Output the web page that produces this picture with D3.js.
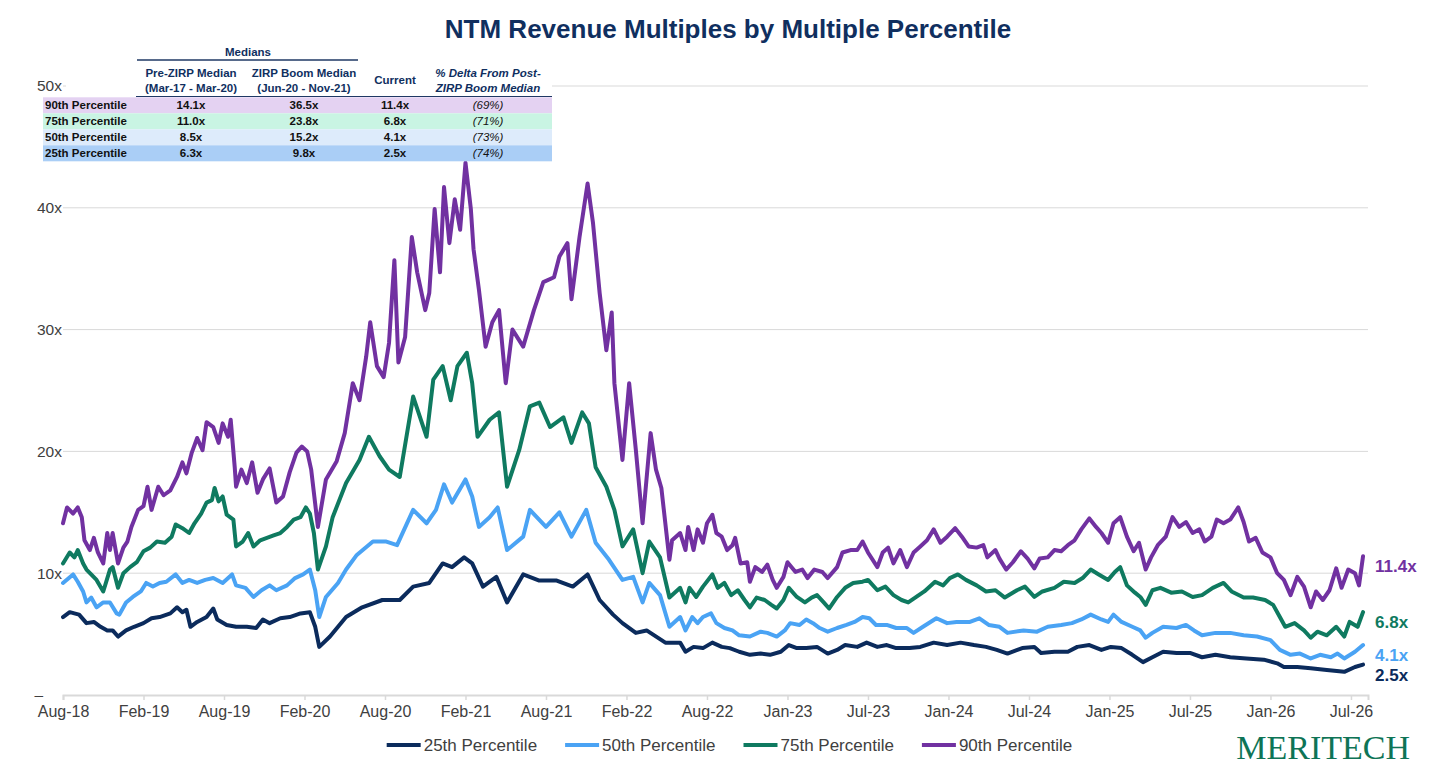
<!DOCTYPE html>
<html>
<head>
<meta charset="utf-8">
<script src="https://cdn.jsdelivr.net/npm/d3@7"></script>
<style>
  html, body { margin: 0; padding: 0; background: #fff; }
  svg { display: block; font-family: "Liberation Sans", Arial, sans-serif; }
</style>
</head>
<body>
<svg id="chart" width="1456" height="770"></svg>
<script>
// ---------------- DATA ----------------
const title = "NTM Revenue Multiples by Multiple Percentile";
const xTickMonths = [0, 6, 12, 18, 24, 30, 36, 42, 48, 54, 60, 66, 72, 78, 84, 90, 96];
const xTickLabels = ["Aug-18","Feb-19","Aug-19","Feb-20","Aug-20","Feb-21","Aug-21","Feb-22","Aug-22",
                     "Jan-23","Jul-23","Jan-24","Jul-24","Jan-25","Jul-25","Jan-26","Jul-26"];
const yTicks = [0, 10, 20, 30, 40, 50];
const seriesNames = ["25th Percentile", "50th Percentile", "75th Percentile", "90th Percentile"];

// months since Aug-18 and multiple (x)
const p25Months = [0,0.5,1.2,1.75,2.3,2.8,3.3,3.7,4.1,4.7,5.3,6,6.6,7.2,8,8.5,8.9,9.2,9.5,10,10.7,11.2,11.5,12.2,12.9,13.7,14.4,14.9,15.4,16.2,16.9,17.7,18.4,18.8,19.1,
  19.9,21.1,22.3,23.8,25.1,26.1,27.3,28.3,29,29.9,30.5,31.3,32.3,33.1,34.3,35.5,36.8,38,39.1,40,41,41.7,42.7,43.5,44.9,
  46,46.4,47,47.7,48.4,49.1,49.7,50.4,51.2,52,52.7,53.5,54.1,54.7,55.4,56.2,57,57.7,58.3,59.2,59.9,60.7,61.4,62.1,63.1,63.9,64.9,65.9,66.9,67.9,68.8,69.6,70.4,
  71.5,72.4,72.9,73.9,74.9,75.6,76.5,77.4,78.1,78.9,79.7,80.5,81.2,82,83,84,84.9,85.9,87,88.2,89.5,90.5,91,92,93,94.2,95.5,96.3,96.9];
const p25Values = [6.4,6.8,6.6,5.9,6.0,5.6,5.3,5.3,4.8,5.3,5.6,5.9,6.3,6.4,6.7,7.2,6.8,7.0,5.6,6.0,6.4,7.1,6.2,5.75,5.6,5.6,5.5,6.2,5.9,6.3,6.4,6.7,6.8,5.6,3.95,
  4.8,6.4,7.2,7.8,7.8,8.9,9.2,10.8,10.5,11.3,10.8,8.9,9.7,7.6,9.9,9.4,9.4,8.9,9.9,7.8,6.6,5.9,5.1,5.3,4.3,
  4.3,3.55,3.95,3.85,4.3,3.95,3.85,3.55,3.3,3.4,3.3,3.55,4.1,3.85,3.85,3.95,3.4,3.7,4.1,3.95,4.3,3.95,4.1,3.85,3.85,3.95,4.3,4.1,4.3,4.1,3.95,3.7,3.4,
  3.85,3.95,3.45,3.55,3.55,3.95,4.1,3.7,3.95,3.85,3.3,2.7,3.1,3.55,3.45,3.45,3.1,3.3,3.1,3.0,2.9,2.6,2.3,2.3,2.2,2.05,1.9,2.3,2.5];

const p50Months = [0,0.75,1.1,1.5,1.75,2.1,2.5,3,3.5,4,4.2,4.7,5.2,5.8,6.2,6.7,7.2,7.7,8.4,8.9,9.4,10,10.6,11.2,11.9,12.6,12.9,13.6,14.2,14.8,15.4,15.9,16.7,17.3,17.9,18.4,18.8,19.1,
  19.6,20.5,21.1,21.9,23.1,24.1,24.9,26.1,27.1,27.8,28.4,29,30,30.5,31,31.8,32.4,33.1,34.3,34.8,36,37,37.9,39,39.7,40.7,41.7,42.5,43.2,43.7,44.5,45.2,
  46,46.4,46.9,47.3,47.7,48.3,48.7,49.3,49.9,50.4,51.2,52,52.5,53.2,53.8,54.2,54.9,55.4,55.9,56.4,57,57.7,58.4,59,59.6,60.1,60.6,61.4,62.1,62.9,63.4,64.1,65.1,65.9,66.6,67.6,68.3,69,69.8,70.4,
  71.6,72.6,73.4,74.4,75.2,75.9,76.6,77.4,77.9,78.3,78.9,79.7,80.3,80.7,81.2,82,83,83.7,84.3,84.9,85.9,87,88,89,90,90.7,91.5,92.2,93,93.7,94.5,95,95.5,96.3,96.9];
const p50Values = [9.2,9.9,9.3,8.5,7.6,8.0,7.2,7.6,7.6,6.7,6.6,7.6,8.05,8.5,9.2,8.9,9.2,9.3,9.9,9.2,9.45,9.2,9.45,9.6,9.2,9.9,9.0,8.8,8.05,8.6,9.0,8.6,9.0,9.6,9.9,10.3,8.6,6.4,
  8.05,9.2,10.3,11.5,12.6,12.6,12.3,15.2,14.1,15.2,17.3,15.8,17.7,16.3,13.8,14.6,15.4,11.9,13.0,15.2,13.8,15.0,13.0,15.2,12.5,11.1,9.45,9.7,7.6,9.2,8.2,5.6,
  6.4,5.3,6.4,5.9,6.4,6.7,5.9,5.5,5.3,4.9,4.8,5.2,5.1,4.8,5.3,5.9,5.75,6.2,5.9,5.5,5.2,5.5,5.75,6.0,6.4,6.3,5.75,5.75,5.5,5.5,5.1,5.6,6.3,5.9,6.0,6.0,6.3,5.75,5.6,5.1,
  5.3,5.2,5.6,5.75,5.9,6.2,6.6,6.2,6.0,6.6,6.0,5.6,5.3,4.7,5.1,5.6,5.5,5.75,5.3,4.9,5.1,5.1,4.9,4.8,4.5,3.7,3.3,3.4,3.0,3.3,3.1,3.4,3.0,3.55,4.1];

const p75Months = [0,0.5,0.85,1.1,1.5,1.75,2.1,2.5,3,3.5,3.7,4.1,4.5,5,5.5,6,6.5,7,7.6,8.1,8.4,8.9,9.4,9.8,10.3,10.7,11.1,11.3,11.6,11.9,12.2,12.7,12.9,13.4,13.8,14.2,14.7,15.2,15.7,16.2,16.7,17.2,17.7,18.1,18.4,18.7,19,
  19.6,20.1,21.1,22.1,22.8,23.6,24.3,25.1,26.1,27.1,27.6,28.3,28.9,29.4,30.1,30.5,30.9,31.8,32.5,33.1,34,34.8,35.5,36.3,37.3,37.9,38.7,39.2,39.7,40.5,41.1,41.7,42.5,43.2,43.7,44.5,45.2,
  46,46.4,46.7,47.2,47.7,48.4,48.8,49.3,49.8,50.3,50.8,51.2,51.7,52.3,52.8,53.2,53.7,54.1,54.7,55.3,55.8,56.2,56.7,57.1,57.7,58.3,58.9,59.6,60,60.7,61.3,61.9,62.5,63,63.6,64.2,65,65.6,66.1,66.7,67.3,68.1,68.8,69.5,70.2,
  71.1,71.7,72.4,73,73.9,74.6,75.4,76,76.6,77.2,77.9,78.4,78.8,79.3,79.9,80.3,80.7,81.2,81.8,82.6,83.4,84.2,84.9,85.7,86.5,87.1,88,88.7,89.6,90.2,90.7,91.1,91.8,92.5,93,93.5,94.2,94.9,95.5,95.9,96.5,96.9];
const p75Values = [10.8,11.7,11.3,11.9,10.8,10.3,9.9,9.45,8.5,10.3,10.5,8.8,10.0,10.5,10.9,11.8,12.1,12.6,12.5,13.0,14.0,13.7,13.3,14.1,14.9,15.8,16.0,17.0,15.9,16.3,14.8,14.4,12.2,12.6,13.3,12.2,12.7,12.9,13.1,13.3,13.8,14.4,14.6,15.4,14.9,13.3,10.3,
  12.2,14.6,17.4,19.3,21.2,19.6,18.5,17.9,24.5,21.2,25.9,27.0,24.2,27.0,28.1,25.6,21.2,22.6,23.2,17.1,20.1,23.7,24.0,22.0,22.8,20.7,23.2,22.3,18.7,17.1,15.2,12.2,13.6,10.0,12.6,11.3,8.0,
  8.8,7.6,8.8,8.05,8.9,9.9,8.8,9.2,8.2,8.6,7.8,7.2,8.0,7.8,7.4,7.1,7.8,8.8,8.05,7.6,8.0,8.2,7.6,7.1,8.05,8.8,9.2,9.3,9.45,8.6,8.9,8.2,7.8,7.6,8.05,8.5,9.3,9.0,9.6,9.9,9.45,9.0,8.5,8.6,8.0,
  8.6,8.9,8.05,8.5,8.8,9.3,9.2,9.6,10.3,9.9,9.45,10.1,10.5,9.0,8.4,8.05,7.4,8.6,8.8,8.4,8.5,8.05,8.2,8.8,9.2,8.5,8.0,8.0,7.8,7.4,6.4,5.6,5.9,5.3,4.7,5.2,4.9,5.6,4.8,6.0,5.6,6.8];

const p90Months = [0,0.3,0.75,1.1,1.4,1.6,2,2.3,2.6,3,3.3,3.5,3.7,4.1,4.5,4.8,5.1,5.6,6,6.3,6.6,7.1,7.5,8,8.5,8.9,9.2,9.6,10,10.4,10.7,11.2,11.6,11.9,12.3,12.5,12.8,12.9,13.3,13.7,14.1,14.5,14.9,15.4,15.9,16.4,16.9,17.4,17.8,18.2,18.5,19,
  19.6,20.4,21,21.6,22.1,22.6,22.9,23.4,23.9,24.3,24.7,25,25.5,26,26.4,27,27.3,27.7,28.1,28.4,28.8,29.2,29.6,30,30.4,30.6,31,31.5,32,32.5,33,33.5,34.3,35.1,35.8,36.6,37,37.6,37.9,38.5,39.1,39.5,40,40.5,40.9,41.1,41.7,42.2,42.7,43.2,43.8,44.2,44.6,45.2,45.4,
  46,46.4,46.6,47,47.3,47.7,48,48.4,48.7,49.1,49.5,49.9,50.1,50.5,51,51.2,51.6,52.1,52.5,52.9,53.2,53.7,54,54.6,55.1,55.5,56,56.6,57,57.7,58.1,58.7,59.2,59.6,60,60.7,61.1,61.5,61.9,62.4,62.9,63.4,63.9,64.4,64.9,65.4,65.9,66.5,67,67.5,68.1,68.6,68.9,69.5,69.8,70.3,70.8,
  71.4,71.9,72.4,72.8,73.4,73.9,74.4,74.9,75.4,75.9,76.5,77,77.4,77.9,78.3,78.8,79.3,79.8,80.2,80.7,81.1,81.6,82.2,82.7,83.2,83.7,84.2,84.7,85.1,85.6,86,86.5,87,87.6,88,88.4,88.9,89.4,90,90.5,91,91.5,92,92.5,93,93.4,93.9,94.4,94.9,95.3,95.8,96.3,96.6,96.9];
const p90Values = [14.1,15.4,14.9,15.4,14.6,12.7,11.9,12.9,11.7,10.8,13.3,11.9,13.3,10.8,12.1,12.6,13.8,15.2,15.5,17.1,15.2,17.1,16.4,16.8,17.9,19.1,18.2,19.9,21.1,20.1,22.4,22.0,20.7,22.3,21.2,22.6,18.7,17.1,18.5,17.4,19.1,16.6,17.7,18.6,15.8,16.3,18.3,19.9,20.4,20.0,18.5,13.8,
  17.7,19.2,21.5,25.6,24.2,27.8,30.6,27.0,26.1,28.9,35.7,27.3,29.4,37.6,34.7,31.6,33.0,39.9,34.7,41.7,37.1,40.7,38.2,43.7,39.9,36.6,33.3,28.6,30.6,31.6,25.6,30.0,28.6,31.6,33.9,34.3,36.0,37.1,32.5,37.6,42.0,38.8,33.0,28.3,31.4,25.6,19.3,25.6,20.1,14.1,21.5,18.5,17.0,11.1,12.7,
  13.3,11.9,13.8,11.9,13.6,12.5,14.1,14.8,13.3,13.0,11.9,12.3,12.9,10.8,10.9,9.3,10.5,10.1,10.7,9.45,8.8,9.7,10.9,10.1,10.3,9.6,10.3,10.1,9.6,10.5,11.7,11.9,11.9,12.6,11.7,10.5,11.7,12.1,10.8,11.9,10.5,11.7,12.2,12.7,13.6,12.5,13.0,13.7,13.0,12.2,12.1,12.3,11.3,11.9,11.2,10.3,10.9,
  11.8,11.2,10.4,11.2,11.3,11.9,11.8,12.3,12.7,13.6,14.5,13.8,13.3,12.5,14.1,14.6,13.0,11.8,12.5,10.3,11.3,12.3,13.0,14.6,13.8,14.2,13.3,13.6,12.6,13.0,14.4,14.1,14.4,15.4,14.2,12.6,12.9,11.7,11.3,10.0,9.45,8.2,9.7,8.9,7.2,8.5,7.8,8.6,10.4,8.8,10.3,10.0,9.0,11.4];

const endLabels = ["2.5x", "4.1x", "6.8x", "11.4x"];

// table
const tableRowLabels = ["90th Percentile", "75th Percentile", "50th Percentile", "25th Percentile"];
const preZirpMedian = ["14.1x", "11.0x", "8.5x", "6.3x"];
const zirpBoomMedian = ["36.5x", "23.8x", "15.2x", "9.8x"];
const currentMultiple = ["11.4x", "6.8x", "4.1x", "2.5x"];
const deltaFromBoom = ["(69%)", "(71%)", "(73%)", "(74%)"];

// ---------------- STYLE ----------------
const colors = ["#0B2B5C", "#4AA3F4", "#0F7A60", "#7131A1"];
const rowFills = ["#E4D2F2", "#C9F4E3", "#DDEBFB", "#AACEF6"];
const navy = "#102F5F";
const textGray = "#404040";
const gridColor = "#D9D9D9";

// ---------------- CHART ----------------
const svg = d3.select("#chart");
const x = d3.scaleLinear().domain([0, 97.27]).range([63, 1368]);
const y = d3.scaleLinear().domain([0, 50]).range([695, 86]);

// title
svg.append("text").attr("x", 728).attr("y", 38).attr("text-anchor", "middle")
  .attr("font-size", 26).attr("font-weight", "bold").attr("fill", navy).text(title);

// gridlines
svg.append("g").selectAll("line").data(yTicks.filter(d => d > 0)).join("line")
  .attr("x1", x.range()[0]).attr("x2", x.range()[1])
  .attr("y1", d => y(d)).attr("y2", d => y(d))
  .attr("stroke", gridColor).attr("stroke-width", 1);

// x axis
const xAxis = d3.axisBottom(x).tickValues(xTickMonths)
  .tickFormat((d, i) => xTickLabels[i]).tickSize(5).tickPadding(6);
const gx = svg.append("g").attr("transform", `translate(0,${y(0)})`).call(xAxis);
gx.select(".domain").attr("stroke", gridColor).attr("stroke-width", 2);
gx.selectAll(".tick line").attr("stroke", gridColor).attr("stroke-width", 1.5);
gx.selectAll(".tick text").attr("font-size", 16).attr("fill", textGray)
  .attr("font-family", "'Liberation Sans', Arial, sans-serif");

// lines
const seriesData = [
  d3.zip(p25Months, p25Values),
  d3.zip(p50Months, p50Values),
  d3.zip(p75Months, p75Values),
  d3.zip(p90Months, p90Values)
];
const line = d3.line().x(d => x(d[0])).y(d => y(d[1])).curve(d3.curveLinear);
svg.append("g").selectAll("path").data(seriesData).join("path")
  .attr("d", line).attr("fill", "none")
  .attr("stroke", (d, i) => colors[i]).attr("stroke-width", 4)
  .attr("stroke-linejoin", "round").attr("stroke-linecap", "round");

// end labels
svg.append("g").selectAll("text").data(seriesData).join("text")
  .attr("x", 1375).attr("y", d => y(d[d.length - 1][1]) + 10).attr("dy", "0.35em")
  .attr("font-size", 17).attr("font-weight", "bold")
  .attr("fill", (d, i) => colors[i]).text((d, i) => endLabels[i]);

// ---------------- TABLE ----------------
const tbl = svg.append("g");
tbl.append("rect").attr("x", 66).attr("y", 40).attr("width", 486).attr("height", 57).attr("fill", "#fff");
tbl.append("text").attr("x", 248).attr("y", 56).attr("text-anchor", "middle")
  .attr("font-size", 11.5).attr("font-weight", "bold").attr("fill", navy).text("Medians");
tbl.append("line").attr("x1", 137).attr("x2", 358).attr("y1", 60).attr("y2", 60)
  .attr("stroke", "#1F3864").attr("stroke-width", 1.5);

const colX = [191, 304, 395, 488];
const headers = [
  ["Pre-ZIRP Median", "(Mar-17 - Mar-20)"],
  ["ZIRP Boom Median", "(Jun-20 - Nov-21)"],
  ["Current"],
  ["% Delta From Post-", "ZIRP Boom Median"]
];
headers.forEach((h, i) => {
  const t = tbl.append("text").attr("text-anchor", "middle").attr("font-size", 11.5)
    .attr("font-weight", "bold").attr("fill", navy)
    .attr("font-style", i === 3 ? "italic" : "normal");
  if (h.length === 1) {
    t.attr("x", colX[i]).attr("y", 84).text(h[0]);
  } else {
    t.append("tspan").attr("x", colX[i]).attr("y", 77).text(h[0]);
    t.append("tspan").attr("x", colX[i]).attr("y", 92).text(h[1]);
  }
});
tbl.append("line").attr("x1", 136).attr("x2", 552).attr("y1", 96.5).attr("y2", 96.5)
  .attr("stroke", "#1F3864").attr("stroke-width", 1.2);

const rowTop = 97.3, rowH = 16;
tableRowLabels.forEach((lab, r) => {
  const ty = rowTop + r * rowH;
  tbl.append("rect").attr("x", 43).attr("y", ty).attr("width", 509).attr("height", rowH).attr("fill", rowFills[r]);
  const cy = ty + rowH / 2;
  tbl.append("text").attr("x", 45).attr("y", cy).attr("dy", "0.35em")
    .attr("font-size", 11.5).attr("font-weight", "bold").attr("fill", "#111").text(lab);
  [preZirpMedian[r], zirpBoomMedian[r], currentMultiple[r], deltaFromBoom[r]].forEach((v, c) => {
    tbl.append("text").attr("x", colX[c]).attr("y", cy).attr("dy", "0.35em")
      .attr("text-anchor", "middle").attr("font-size", 11.5)
      .attr("font-weight", c === 3 ? "normal" : "bold")
      .attr("font-style", c === 3 ? "italic" : "normal")
      .attr("fill", "#111").text(v);
  });
});

// y labels (on top)
svg.append("g").selectAll("text").data(yTicks).join("text")
  .attr("x", d => d === 0 ? 43 : 62).attr("y", d => y(d)).attr("dy", "0.35em")
  .attr("text-anchor", "end").attr("font-size", 15.5).attr("fill", textGray)
  .text(d => d === 0 ? "–" : d + "x");

// ---------------- LEGEND ----------------
const leg = svg.append("g");
const legY = 745, lineLen = 34, gapLT = 3, gapItem = 28;
const items = seriesNames.map((name, i) => {
  const g = leg.append("g");
  g.append("line").attr("x1", 0).attr("x2", lineLen).attr("y1", 0).attr("y2", 0)
    .attr("stroke", colors[i]).attr("stroke-width", 4);
  const t = g.append("text").attr("x", lineLen + gapLT).attr("y", 0).attr("dy", "0.35em")
    .attr("font-size", 17).attr("fill", textGray).text(name);
  return { g, w: lineLen + gapLT + t.node().getComputedTextLength() };
});
const total = d3.sum(items, d => d.w) + gapItem * (items.length - 1);
let cx = 729.5 - total / 2;
items.forEach(it => { it.g.attr("transform", `translate(${cx},${legY})`); cx += it.w + gapItem; });

// logo
svg.append("text").attr("x", 1410).attr("y", 759).attr("text-anchor", "end")
  .attr("font-family", "'Liberation Serif', 'Times New Roman', serif")
  .attr("font-size", 34).attr("fill", "#0E7456").text("MERITECH");
</script>
</body>
</html>
